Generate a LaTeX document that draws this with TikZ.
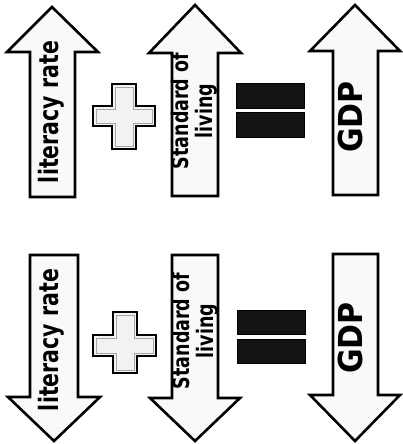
\documentclass[tikz,border=0pt]{standalone}
\usepackage{fontspec}
\newfontfamily\lblfont{DejaVu Sans}
\newcommand{\tall}[2]{\scalebox{1}[#1]{\begin{tabular}{@{}c@{}}#2\end{tabular}}}
\begin{document}
\begin{tikzpicture}[x=1pt,y=-1pt,
  arrowbody/.style={draw=black,line width=2.6pt,fill=gray!5,line join=miter},
  plusbody/.style={draw=black,line width=2pt,fill=gray!10},
  plusinner/.style={draw=gray!70,line width=1pt},
  eqbar/.style={fill=black!92,draw=black,line width=0.8pt},
  lbl/.style={rotate=90,inner sep=0pt}]
\useasboundingbox (0,0) rectangle (403,444);
% top row arrows
\draw[arrowbody] (30,197)--(30,52)--(7,52)--(52,7)--(98,52)--(75,52)--(75,197)--cycle;
\draw[arrowbody] (172,196)--(172,53)--(149,53)--(195,5)--(241,53)--(218,53)--(218,196)--cycle;
\draw[arrowbody] (333,195)--(333,51)--(310,51)--(355,5)--(400,51)--(378,51)--(378,195)--cycle;
% bottom row arrows
\draw[arrowbody] (30,255)--(30,397)--(8,397)--(54,441)--(100,397)--(78,397)--(78,255)--cycle;
\draw[arrowbody] (172,255)--(172,398)--(150,398)--(195,441)--(240,398)--(218,398)--(218,255)--cycle;
\draw[arrowbody] (333,254)--(333,395)--(310,395)--(355,441)--(400,395)--(378,395)--(378,254)--cycle;
% plus signs
\draw[plusbody] (112,84)--(136,84)--(136,106)--(155,106)--(155,126)--(136,126)--(136,149)--(112,149)--(112,126)--(93,126)--(93,106)--(112,106)--cycle;
\draw[plusinner] (115,87)--(133,87)--(133,109)--(152,109)--(152,123)--(133,123)--(133,146)--(115,146)--(115,123)--(96,123)--(96,109)--(115,109)--cycle;
\draw[plusbody] (113,312)--(137,312)--(137,335)--(156,335)--(156,356)--(137,356)--(137,373)--(113,373)--(113,356)--(93,356)--(93,335)--(113,335)--cycle;
\draw[plusinner] (116,315)--(134,315)--(134,338)--(153,338)--(153,353)--(134,353)--(134,370)--(116,370)--(116,353)--(96,353)--(96,338)--(116,338)--cycle;
% equals signs
\fill[eqbar] (236,83) rectangle (304,108);
\fill[eqbar] (236,112) rectangle (304,137);
\fill[eqbar] (237,310) rectangle (305,334);
\fill[eqbar] (237,339) rectangle (305,363);
% labels top
\node[lbl,font=\lblfont\bfseries\fontsize{20.5}{21}\selectfont] (t1) at (52,112) {\tall{1.3}{literacy rate}};
\node[lbl,font=\lblfont\bfseries\fontsize{17.5}{16}\selectfont] (t2) at (195,111) {\tall{1.3}{Standard of\\living}};
\node[lbl,font=\lblfont\bfseries\fontsize{30}{31}\selectfont] (t3) at (355,117) {\tall{1.1}{GDP}};
% labels bottom
\node[lbl,font=\lblfont\bfseries\fontsize{20.5}{21}\selectfont] (b1) at (52,340) {\tall{1.3}{literacy rate}};
\node[lbl,font=\lblfont\bfseries\fontsize{17.5}{16}\selectfont] (b2) at (196,331) {\tall{1.3}{Standard of\\living}};
\node[lbl,font=\lblfont\bfseries\fontsize{30}{31}\selectfont] (b3) at (355,338) {\tall{1.1}{GDP}};
\end{tikzpicture}
\end{document}
